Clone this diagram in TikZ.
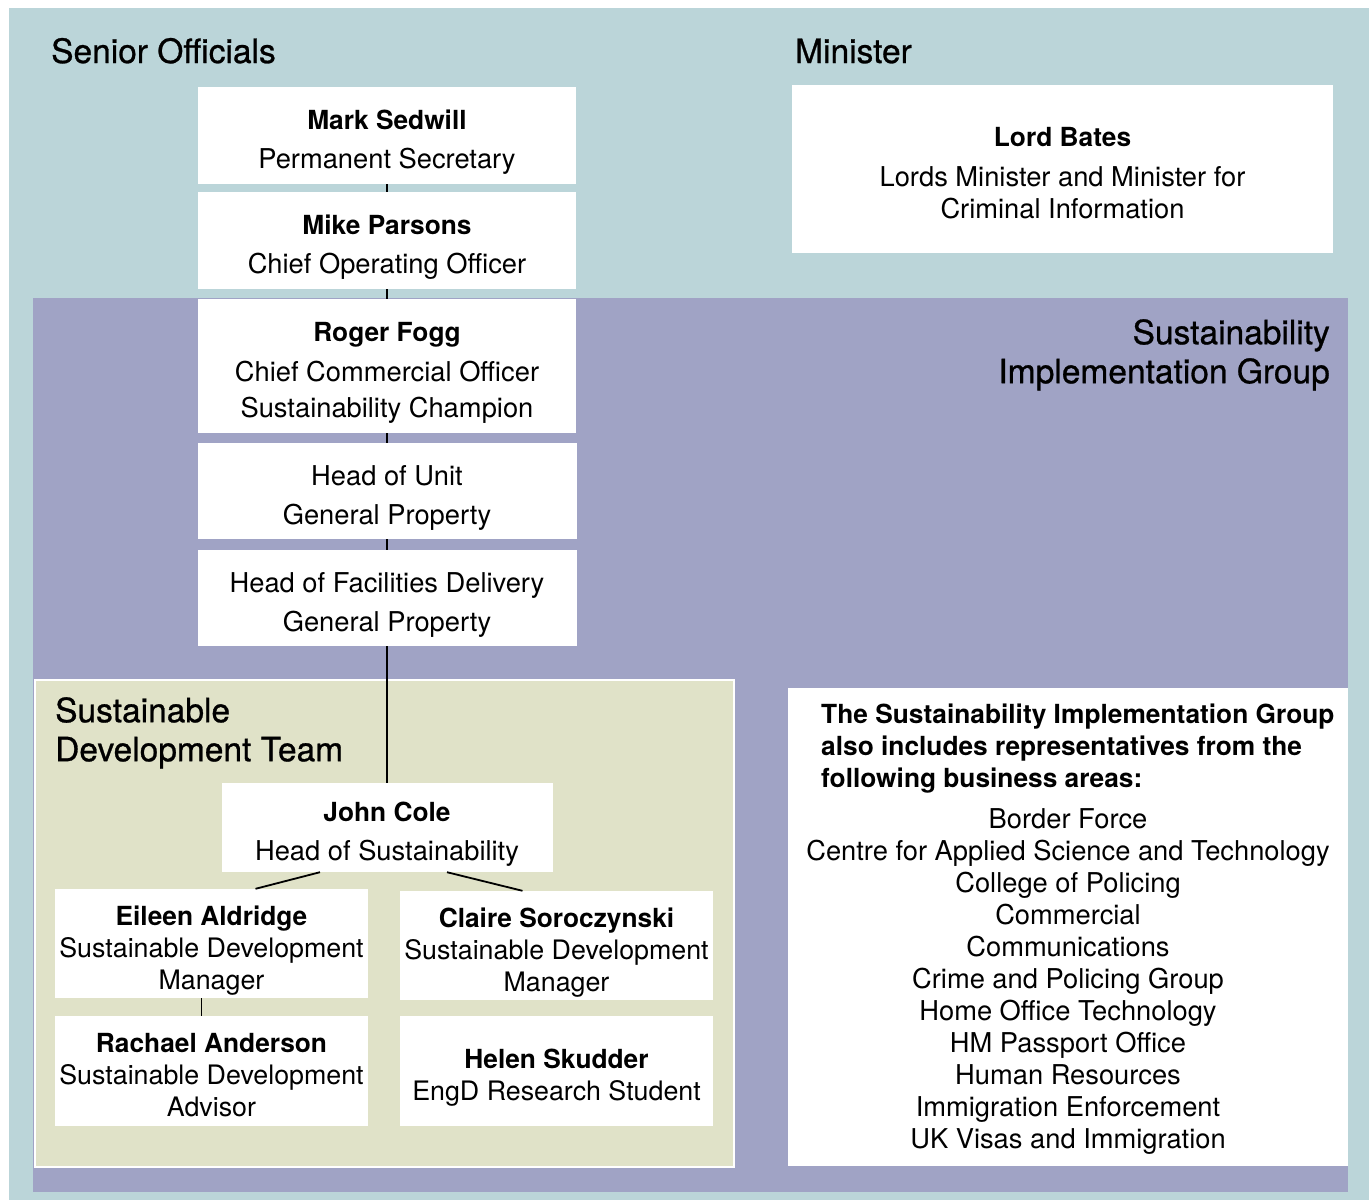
\documentclass[tikz,border=0pt]{standalone}
\usepackage{fontspec}
\setmainfont{TeX Gyre Heros}
\newfontfamily\headfamily{TeX Gyre Heros}[FakeBold=0.8]
\usetikzlibrary{calc}
\definecolor{seniorbg}{RGB}{187,213,217}
\definecolor{groupbg}{RGB}{160,163,197}
\definecolor{teambg}{RGB}{224,226,200}
\newcommand{\wideset}{\fontsize{27.3}{39}\selectfont}
\newcommand{\tightset}{\fontsize{26.8}{32}\selectfont}
\newcommand{\headset}{\headfamily\fontsize{33.5}{39}\selectfont}
\newcommand{\nm}[1]{{\fontsize{26.3}{32}\selectfont\bfseries #1}}
\begin{document}
\begin{tikzpicture}[x=1pt,y=-1pt,
  orgbox/.style={fill=white, inner sep=0pt},
  orgtext/.style={inner sep=0pt, align=center, yshift=-7pt},
  widetext/.style={orgtext, font=\wideset},
  tighttext/.style={orgtext, font=\tightset},
  heading/.style={inner sep=0pt, font=\headset},
  link/.style={draw=black, line width=1.8pt}]
\useasboundingbox (0,0) rectangle (1371,1202);
% layered backgrounds
\fill[white] (0,0) rectangle (1371,1202);
\fill[seniorbg] (9,8) rectangle (1369,1200);
\fill[groupbg] (33,298) rectangle (1348,1192);
\filldraw[fill=teambg, draw=white, line width=1.5pt] (35,680) rectangle (734,1167);

% group headings
\node[heading, anchor=base west] (senior) at (51,63) {Senior Officials};
\node[heading, anchor=base west] (minister) at (795,63) {Minister};
\node[heading, anchor=north east, align=right] (sig) at (1330,319) {Sustainability\\Implementation Group};
\node[heading, anchor=north west, align=left] (team) at (55,697) {Sustainable\\Development Team};

% senior chain
\node[orgbox, minimum width=378pt, minimum height=97pt] (mark) at (387,135.5) {};
\node[widetext] (markt) at (mark.center) {\nm{Mark Sedwill}\\Permanent Secretary};
\node[orgbox, minimum width=378pt, minimum height=97pt] (mike) at (387,240.5) {};
\node[widetext] (miket) at (mike.center) {\nm{Mike Parsons}\\Chief Operating Officer};
\node[orgbox, minimum width=378pt, minimum height=134pt] (roger) at (387,366) {};
\node[orgtext, font=\fontsize{27.3}{36}\selectfont] (rogert) at (roger.center)
  {\nm{Roger Fogg}\\[4pt]Chief Commercial Officer\\Sustainability Champion};
\node[orgbox, minimum width=379pt, minimum height=96pt] (unit) at (387,491) {};
\node[widetext] (unitt) at (unit.center) {Head of Unit\\General Property};
\node[orgbox, minimum width=379pt, minimum height=96pt] (facil) at (387,598) {};
\node[widetext] (facilt) at (facil.center) {Head of Facilities Delivery\\General Property};

% minister
\node[orgbox, minimum width=541pt, minimum height=168pt] (lord) at (1062.5,169) {};
\node[tighttext, font=\fontsize{27.3}{32}\selectfont, yshift=3pt] (lordt) at (lord.center)
  {\nm{Lord Bates}\\[8pt]Lords Minister and Minister for\\Criminal Information};

% development team
\node[orgbox, minimum width=331pt, minimum height=89pt] (john) at (387,827.5) {};
\node[widetext] (johnt) at (john.center) {\nm{John Cole}\\Head of Sustainability};
\node[orgbox, minimum width=313pt, minimum height=109pt] (eileen) at (211.5,943.5) {};
\node[tighttext] (eileent) at (eileen.center) {\nm{Eileen Aldridge}\\Sustainable Development\\Manager};
\node[orgbox, minimum width=313pt, minimum height=109pt] (claire) at (556.5,945.5) {};
\node[tighttext] (clairet) at (claire.center) {\nm{Claire Soroczynski}\\Sustainable Development\\Manager};
\node[orgbox, minimum width=313pt, minimum height=110pt] (rachael) at (211.5,1071) {};
\node[tighttext, yshift=3pt] (rachaelt) at (rachael.center) {\nm{Rachael Anderson}\\Sustainable Development\\Advisor};
\node[orgbox, minimum width=313pt, minimum height=110pt] (helen) at (556.5,1071) {};
\node[tighttext] (helent) at (helen.center) {\nm{Helen Skudder}\\EngD Research Student};

% business areas panel
\node[orgbox, minimum width=560pt, minimum height=478pt] (info) at (1068,927) {};
\node[inner sep=0pt, anchor=north west, align=left, font=\fontsize{26.3}{32}\selectfont\bfseries] (infohead) at (821,704)
  {The Sustainability Implementation Group\\also includes representatives from the\\following business areas:};
\node[inner sep=0pt, anchor=north, align=center, font=\fontsize{27.3}{32}\selectfont] (infolist) at (1068,808)
  {Border Force\\Centre for Applied Science and Technology\\College of Policing\\Commercial\\Communications\\Crime and Policing Group\\Home Office Technology\\HM Passport Office\\Human Resources\\Immigration Enforcement\\UK Visas and Immigration};

% reporting lines
\draw[link] (mark.south) -- (mike.north);
\draw[link] (mike.south) -- (roger.north);
\draw[link] (roger.south) -- (unit.north);
\draw[link] (unit.south) -- (facil.north);
\draw[link] (facil.south) -- (john.north);
\draw[link] ($(john.south)+(-67,0)$) -- ($(eileen.north)+(44,0)$);
\draw[link] ($(john.south)+(60,0)$) -- ($(claire.north)+(-34,0)$);
\draw[link] ($(eileen.south)+(-10,0)$) -- ($(rachael.north)+(-10,0)$);
\end{tikzpicture}
\end{document}
